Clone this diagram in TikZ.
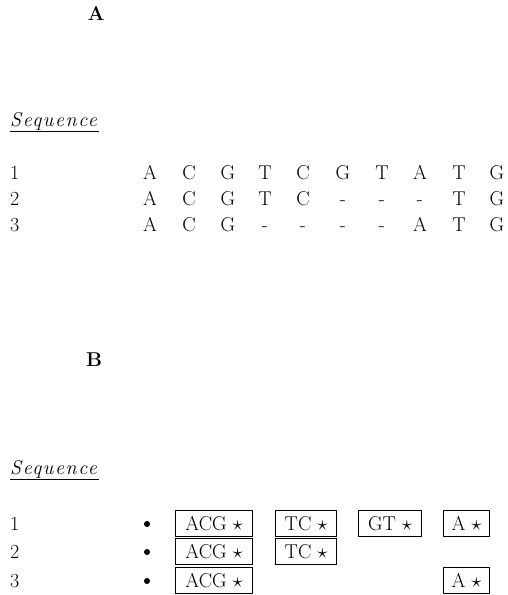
\documentclass[tikz,border=0pt]{standalone}
\usepackage{fontspec}
\setmainfont{Latin Modern Roman}
\begin{document}
\begin{tikzpicture}[x=1pt,y=-1pt,
  every node/.style={font=\fontsize{20}{24}\selectfont, inner sep=0pt},
  tag/.style={font=\fontsize{20}{24}\selectfont\bfseries},
  rowlab/.style={anchor=base west},
  base/.style={anchor=base},
  seqhead/.style={anchor=base west},
  cell/.style={draw, line width=1.2pt, minimum height=26pt, anchor=north west, inner xsep=3pt},
  dot/.style={circle, fill, minimum size=6pt}]
\useasboundingbox (0,0) rectangle (507,595);

% ---- panel A: aligned sequences
\node[tag] (labA) at (96,13) {A};
\node[seqhead] (seqA) at (10,126) {\underline{\textit{\addfontfeatures{LetterSpace=8}Sequence}}};

\node[rowlab] (a1) at (10,179) {1};
\node[rowlab] (a2) at (10,205) {2};
\node[rowlab] (a3) at (10,231) {3};

\foreach \x/\c [count=\i] in {150/A,189/C,228/G,265/T,303/C,343/G,382/T,420/A,459/T,497/G}
  \node[base] (r1c\i) at (\x,179) {\c};
\foreach \x/\c [count=\i] in {150/A,189/C,228/G,265/T,303/C,343/-,382/-,420/-,459/T,497/G}
  \node[base] (r2c\i) at (\x,205) {\c};
\foreach \x/\c [count=\i] in {150/A,189/C,228/G,265/-,303/-,343/-,382/-,420/A,459/T,497/G}
  \node[base] (r3c\i) at (\x,231) {\c};

% ---- panel B: blocks of the alignment
\node[tag] (labB) at (94,360) {B};
\node[seqhead] (seqB) at (10,474) {\underline{\textit{\addfontfeatures{LetterSpace=8}Sequence}}};

\node[rowlab] (b1) at (10,530) {1};
\node[rowlab] (b2) at (10,558) {2};
\node[rowlab] (b3) at (10,587) {3};

\node[dot] (d1) at (147,524) {};
\node[dot] (d2) at (147,552) {};
\node[dot] (d3) at (147,581) {};

\node[cell, minimum width=77pt] (k1a) at (175,510) {ACG $\star$};
\node[cell, minimum width=61pt] (k1b) at (275,510) {TC $\star$};
\node[cell, minimum width=63pt] (k1c) at (358,510) {GT $\star$};
\node[cell, minimum width=46pt] (k1d) at (443,510) {A $\star$};

\node[cell, minimum width=77pt] (k2a) at (175,538) {ACG $\star$};
\node[cell, minimum width=61pt] (k2b) at (275,538) {TC $\star$};

\node[cell, minimum width=77pt] (k3a) at (175,567) {ACG $\star$};
\node[cell, minimum width=46pt] (k3d) at (443,567) {A $\star$};
\end{tikzpicture}
\end{document}
